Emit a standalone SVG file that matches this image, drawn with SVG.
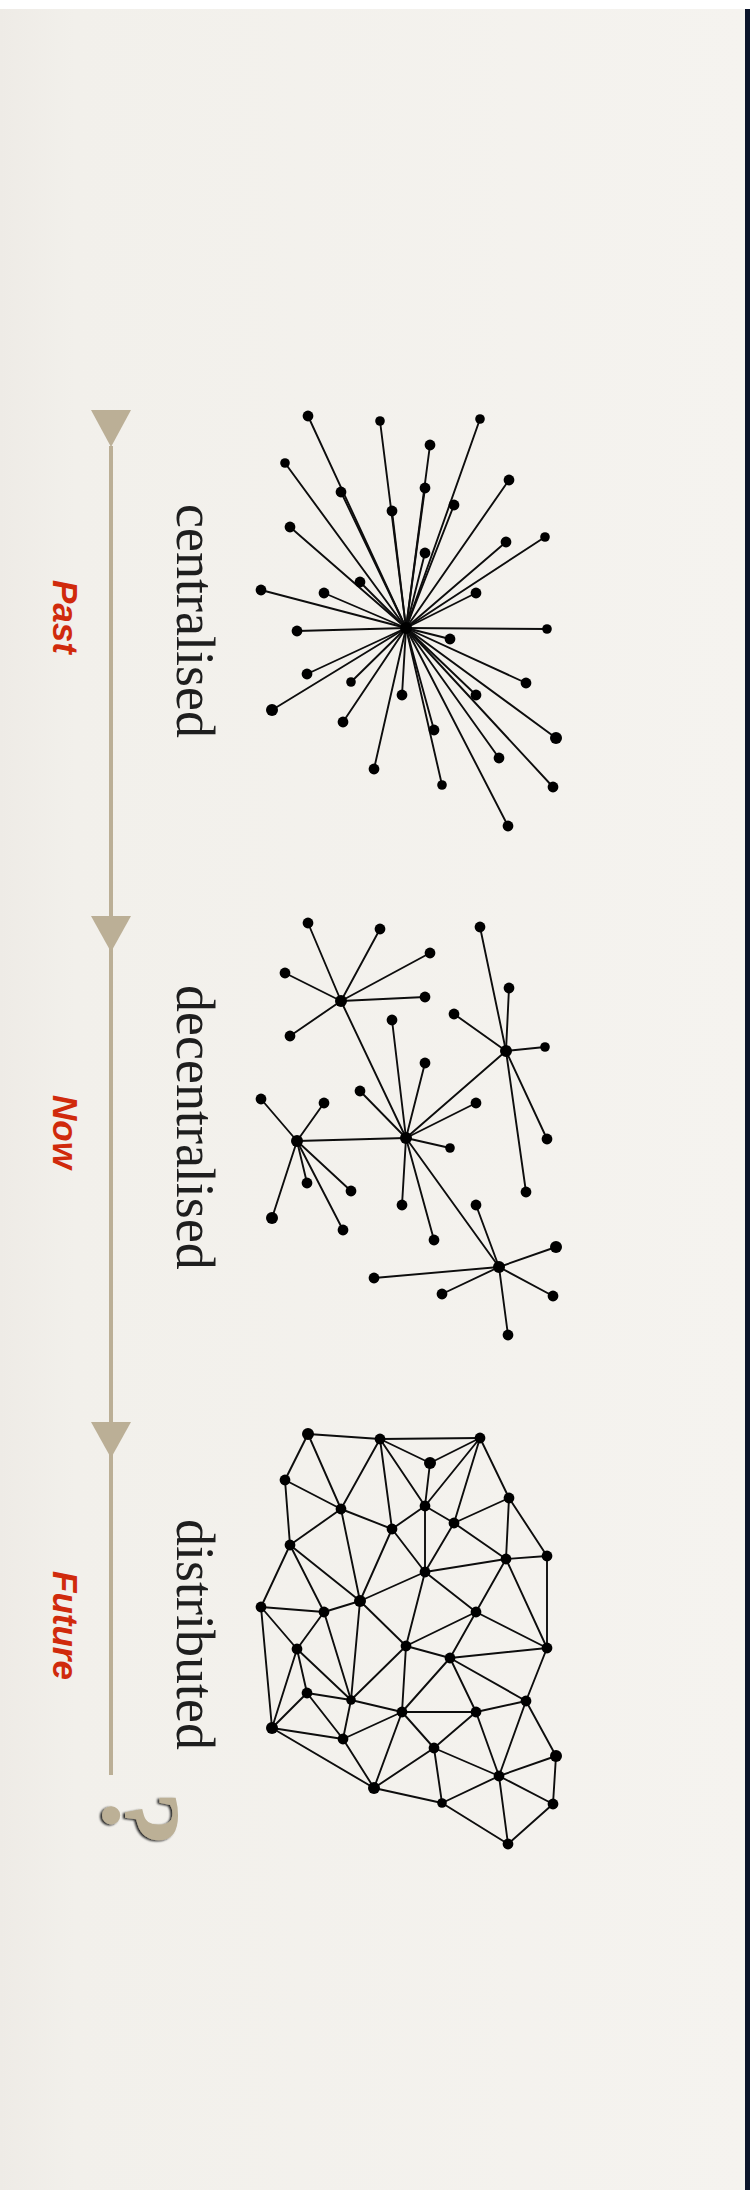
<svg xmlns="http://www.w3.org/2000/svg" width="750" height="2190" viewBox="0 0 750 2190">
<defs>
<linearGradient id="bg" x1="0" y1="0" x2="1" y2="0">
<stop offset="0" stop-color="#eeebe6"/>
<stop offset="0.1" stop-color="#f2f0eb"/>
<stop offset="1" stop-color="#f5f3ef"/>
</linearGradient>
<filter id="sh" x="-20%" y="-20%" width="140%" height="140%">
<feDropShadow dx="-2" dy="1" stdDeviation="1.2" flood-color="#000" flood-opacity="0.85"/>
</filter>
<style>
.e line{stroke:#0d0d0d;stroke-width:1.9;stroke-linecap:round}
.d circle{fill:#000;transform-box:fill-box;transform-origin:center;transform:scale(1.2)}
.lbl{font-family:"Liberation Serif","Times New Roman",serif;font-size:54px;fill:#1e1e1e}
.era{font-family:"Liberation Sans",Arial,sans-serif;font-size:35px;font-weight:bold;font-style:italic;fill:#d02a0c}
.tl{fill:#bbaf96}
</style>
</defs>
<rect width="750" height="2190" fill="url(#bg)"/>
<rect width="750" height="9" fill="#ffffff"/>
<rect x="745" y="9" width="5" height="2181" fill="#0b152b"/>

<g id="timeline">
<rect class="tl" x="109" y="446" width="4" height="1329"/>
<polygon class="tl" points="91,410 131,410 111,447"/>
<polygon class="tl" points="91,916 131,916 111,952"/>
<polygon class="tl" points="91,1422 131,1422 111,1458"/>
</g>

<g id="label-past"><text class="era" transform="translate(53,580) rotate(90)">Past</text></g>
<g id="label-now"><text class="era" transform="translate(53,1095) rotate(90)">Now</text></g>
<g id="label-future"><text class="era" transform="translate(53,1571) rotate(90)">Future</text></g>
<g id="question" filter="url(#sh)"><text transform="translate(104,1791) rotate(90)" font-family="'Liberation Serif','Times New Roman',serif" font-weight="bold" font-size="112" fill="#bcb096">?</text></g>

<g id="label-centralised"><text class="lbl" transform="translate(177,504) rotate(90)">centralised</text></g>
<g id="label-decentralised"><text class="lbl" transform="translate(177,985) rotate(90)">decentralised</text></g>
<g id="label-distributed"><text class="lbl" transform="translate(177,1519) rotate(90)">distributed</text></g>

<g id="centralised-network">
<g class="e">
<line x1="406" y1="628" x2="308" y2="416"/>
<line x1="406" y1="628" x2="380" y2="421"/>
<line x1="406" y1="628" x2="480" y2="419"/>
<line x1="406" y1="628" x2="430" y2="445"/>
<line x1="406" y1="628" x2="285" y2="463"/>
<line x1="406" y1="628" x2="509" y2="480"/>
<line x1="406" y1="628" x2="341" y2="492"/>
<line x1="406" y1="628" x2="425" y2="488"/>
<line x1="406" y1="628" x2="392" y2="511"/>
<line x1="406" y1="628" x2="454" y2="505"/>
<line x1="406" y1="628" x2="290" y2="527"/>
<line x1="406" y1="628" x2="506" y2="542"/>
<line x1="406" y1="628" x2="545" y2="537"/>
<line x1="406" y1="628" x2="425" y2="553"/>
<line x1="406" y1="628" x2="360" y2="582"/>
<line x1="406" y1="628" x2="261" y2="590"/>
<line x1="406" y1="628" x2="324" y2="593"/>
<line x1="406" y1="628" x2="476" y2="593"/>
<line x1="406" y1="628" x2="297" y2="631" stroke="#777" stroke-width="2.8"/>
<line x1="406" y1="628" x2="547" y2="629" stroke="#777" stroke-width="2.8"/>
<line x1="406" y1="628" x2="450" y2="639"/>
<line x1="406" y1="628" x2="307" y2="674"/>
<line x1="406" y1="628" x2="351" y2="682"/>
<line x1="406" y1="628" x2="402" y2="695"/>
<line x1="406" y1="628" x2="526" y2="683"/>
<line x1="406" y1="628" x2="476" y2="695"/>
<line x1="406" y1="628" x2="272" y2="710"/>
<line x1="406" y1="628" x2="343" y2="722"/>
<line x1="406" y1="628" x2="434" y2="730"/>
<line x1="406" y1="628" x2="556" y2="738"/>
<line x1="406" y1="628" x2="499" y2="758"/>
<line x1="406" y1="628" x2="374" y2="769"/>
<line x1="406" y1="628" x2="442" y2="785"/>
<line x1="406" y1="628" x2="553" y2="787"/>
<line x1="406" y1="628" x2="508" y2="826"/>
</g>
<g class="d">
<circle cx="406" cy="628" r="5"/>
<circle cx="308" cy="416" r="4.5"/><circle cx="380" cy="421" r="4"/><circle cx="480" cy="419" r="4"/>
<circle cx="430" cy="445" r="4.5"/><circle cx="285" cy="463" r="4"/><circle cx="509" cy="480" r="4.5"/>
<circle cx="341" cy="492" r="4.5"/><circle cx="425" cy="488" r="4.5"/><circle cx="392" cy="511" r="4.5"/>
<circle cx="454" cy="505" r="4.5"/><circle cx="290" cy="527" r="4.5"/><circle cx="506" cy="542" r="4.5"/>
<circle cx="545" cy="537" r="4"/><circle cx="425" cy="553" r="4.5"/><circle cx="360" cy="582" r="4.5"/>
<circle cx="261" cy="590" r="4.5"/><circle cx="324" cy="593" r="4.5"/><circle cx="476" cy="593" r="4.5"/>
<circle cx="297" cy="631" r="4.5"/><circle cx="547" cy="629" r="4"/><circle cx="450" cy="639" r="4.5"/>
<circle cx="307" cy="674" r="4.5"/><circle cx="351" cy="682" r="4"/><circle cx="402" cy="695" r="4.5"/>
<circle cx="526" cy="683" r="4.5"/><circle cx="476" cy="695" r="4.5"/><circle cx="272" cy="710" r="5"/>
<circle cx="343" cy="722" r="4.5"/><circle cx="434" cy="730" r="4.5"/><circle cx="556" cy="738" r="5"/>
<circle cx="499" cy="758" r="4.5"/><circle cx="374" cy="769" r="4.5"/><circle cx="442" cy="785" r="4"/>
<circle cx="553" cy="787" r="4.5"/><circle cx="508" cy="826" r="4.5"/>
</g>
</g>

<g id="decentralised-network">
<g class="e">
<line x1="341" y1="1001" x2="406" y2="1138"/>
<line x1="406" y1="1138" x2="297" y2="1141"/>
<line x1="406" y1="1138" x2="506" y2="1051"/>
<line x1="406" y1="1138" x2="499" y2="1267"/>
<line x1="341" y1="1001" x2="308" y2="923"/>
<line x1="341" y1="1001" x2="380" y2="929"/>
<line x1="341" y1="1001" x2="430" y2="953"/>
<line x1="341" y1="1001" x2="285" y2="973"/>
<line x1="341" y1="1001" x2="425" y2="997"/>
<line x1="341" y1="1001" x2="290" y2="1036"/>
<line x1="506" y1="1051" x2="480" y2="927"/>
<line x1="506" y1="1051" x2="509" y2="988"/>
<line x1="506" y1="1051" x2="454" y2="1014"/>
<line x1="506" y1="1051" x2="545" y2="1047"/>
<line x1="506" y1="1051" x2="547" y2="1139"/>
<line x1="506" y1="1051" x2="526" y2="1192"/>
<line x1="406" y1="1138" x2="392" y2="1020"/>
<line x1="406" y1="1138" x2="425" y2="1063"/>
<line x1="406" y1="1138" x2="360" y2="1091"/>
<line x1="406" y1="1138" x2="476" y2="1103"/>
<line x1="406" y1="1138" x2="450" y2="1148"/>
<line x1="406" y1="1138" x2="402" y2="1205"/>
<line x1="406" y1="1138" x2="434" y2="1240"/>
<line x1="297" y1="1141" x2="261" y2="1099"/>
<line x1="297" y1="1141" x2="324" y2="1103"/>
<line x1="297" y1="1141" x2="307" y2="1183"/>
<line x1="297" y1="1141" x2="351" y2="1191"/>
<line x1="297" y1="1141" x2="272" y2="1218"/>
<line x1="297" y1="1141" x2="343" y2="1230"/>
<line x1="499" y1="1267" x2="476" y2="1205"/>
<line x1="499" y1="1267" x2="556" y2="1247"/>
<line x1="499" y1="1267" x2="374" y2="1278"/>
<line x1="499" y1="1267" x2="442" y2="1294"/>
<line x1="499" y1="1267" x2="553" y2="1296"/>
<line x1="499" y1="1267" x2="508" y2="1335"/>
</g>
<g class="d">
<circle cx="341" cy="1001" r="5"/><circle cx="406" cy="1138" r="5"/><circle cx="297" cy="1141" r="5"/>
<circle cx="506" cy="1051" r="5"/><circle cx="499" cy="1267" r="5"/>
<circle cx="308" cy="923" r="4.5"/><circle cx="380" cy="929" r="4.5"/><circle cx="430" cy="953" r="4.5"/>
<circle cx="285" cy="973" r="4.5"/><circle cx="425" cy="997" r="4.5"/><circle cx="290" cy="1036" r="4.5"/>
<circle cx="480" cy="927" r="4.5"/><circle cx="509" cy="988" r="4.5"/><circle cx="454" cy="1014" r="4.5"/>
<circle cx="545" cy="1047" r="4"/><circle cx="547" cy="1139" r="4.5"/><circle cx="526" cy="1192" r="4.5"/>
<circle cx="392" cy="1020" r="4.5"/><circle cx="425" cy="1063" r="4.5"/><circle cx="360" cy="1091" r="4.5"/>
<circle cx="476" cy="1103" r="4.5"/><circle cx="450" cy="1148" r="4"/><circle cx="402" cy="1205" r="4.5"/>
<circle cx="434" cy="1240" r="4.5"/><circle cx="261" cy="1099" r="4.5"/><circle cx="324" cy="1103" r="4.5"/>
<circle cx="307" cy="1183" r="4.5"/><circle cx="351" cy="1191" r="4.5"/><circle cx="272" cy="1218" r="5"/>
<circle cx="343" cy="1230" r="4.5"/><circle cx="476" cy="1205" r="4.5"/><circle cx="556" cy="1247" r="5"/>
<circle cx="374" cy="1278" r="4.5"/><circle cx="442" cy="1294" r="4.5"/><circle cx="553" cy="1296" r="4.5"/>
<circle cx="508" cy="1335" r="4.5"/>
</g>
</g>

<g id="distributed-network">
<g class="e">
<line x1="308" y1="1434" x2="380" y2="1439"/>
<line x1="380" y1="1439" x2="480" y2="1438"/>
<line x1="308" y1="1434" x2="285" y2="1480"/>
<line x1="308" y1="1434" x2="341" y2="1509"/>
<line x1="380" y1="1439" x2="341" y2="1509"/>
<line x1="380" y1="1439" x2="430" y2="1463"/>
<line x1="380" y1="1439" x2="425" y2="1506"/>
<line x1="380" y1="1439" x2="392" y2="1529"/>
<line x1="430" y1="1463" x2="480" y2="1438"/>
<line x1="430" y1="1463" x2="425" y2="1506"/>
<line x1="480" y1="1438" x2="425" y2="1506"/>
<line x1="480" y1="1438" x2="454" y2="1523"/>
<line x1="480" y1="1438" x2="509" y2="1498"/>
<line x1="285" y1="1480" x2="341" y2="1509"/>
<line x1="285" y1="1480" x2="290" y2="1545"/>
<line x1="341" y1="1509" x2="290" y2="1545"/>
<line x1="341" y1="1509" x2="392" y2="1529"/>
<line x1="341" y1="1509" x2="360" y2="1601"/>
<line x1="392" y1="1529" x2="425" y2="1506"/>
<line x1="425" y1="1506" x2="454" y2="1523"/>
<line x1="392" y1="1529" x2="425" y2="1572"/>
<line x1="425" y1="1506" x2="425" y2="1572"/>
<line x1="454" y1="1523" x2="425" y2="1572"/>
<line x1="454" y1="1523" x2="506" y2="1559"/>
<line x1="454" y1="1523" x2="509" y2="1498"/>
<line x1="509" y1="1498" x2="506" y2="1559"/>
<line x1="509" y1="1498" x2="547" y2="1556"/>
<line x1="506" y1="1559" x2="547" y2="1556"/>
<line x1="506" y1="1559" x2="425" y2="1572"/>
<line x1="392" y1="1529" x2="360" y2="1601"/>
<line x1="425" y1="1572" x2="360" y2="1601"/>
<line x1="290" y1="1545" x2="360" y2="1601"/>
<line x1="290" y1="1545" x2="324" y2="1612"/>
<line x1="290" y1="1545" x2="261" y2="1607"/>
<line x1="261" y1="1607" x2="324" y2="1612"/>
<line x1="324" y1="1612" x2="360" y2="1601"/>
<line x1="425" y1="1572" x2="406" y2="1646"/>
<line x1="360" y1="1601" x2="406" y2="1646"/>
<line x1="425" y1="1572" x2="476" y2="1612"/>
<line x1="506" y1="1559" x2="476" y2="1612"/>
<line x1="476" y1="1612" x2="406" y2="1646"/>
<line x1="476" y1="1612" x2="547" y2="1648"/>
<line x1="547" y1="1556" x2="547" y2="1648"/>
<line x1="506" y1="1559" x2="547" y2="1648"/>
<line x1="406" y1="1646" x2="450" y2="1658"/>
<line x1="450" y1="1658" x2="547" y2="1648"/>
<line x1="476" y1="1612" x2="450" y2="1658"/>
<line x1="261" y1="1607" x2="297" y2="1649"/>
<line x1="324" y1="1612" x2="297" y2="1649"/>
<line x1="297" y1="1649" x2="307" y2="1693"/>
<line x1="297" y1="1649" x2="351" y2="1700"/>
<line x1="297" y1="1649" x2="272" y2="1728"/>
<line x1="307" y1="1693" x2="351" y2="1700"/>
<line x1="307" y1="1693" x2="272" y2="1728"/>
<line x1="324" y1="1612" x2="351" y2="1700"/>
<line x1="360" y1="1601" x2="351" y2="1700"/>
<line x1="261" y1="1607" x2="272" y2="1728"/>
<line x1="351" y1="1700" x2="406" y2="1646"/>
<line x1="351" y1="1700" x2="402" y2="1712"/>
<line x1="351" y1="1700" x2="343" y2="1739"/>
<line x1="406" y1="1646" x2="402" y2="1712"/>
<line x1="450" y1="1658" x2="402" y2="1712"/>
<line x1="402" y1="1712" x2="476" y2="1712"/>
<line x1="450" y1="1658" x2="476" y2="1712"/>
<line x1="476" y1="1712" x2="526" y2="1701"/>
<line x1="450" y1="1658" x2="526" y2="1701"/>
<line x1="547" y1="1648" x2="526" y2="1701"/>
<line x1="526" y1="1701" x2="556" y2="1756"/>
<line x1="526" y1="1701" x2="499" y2="1776"/>
<line x1="476" y1="1712" x2="499" y2="1776"/>
<line x1="476" y1="1712" x2="434" y2="1748"/>
<line x1="402" y1="1712" x2="434" y2="1748"/>
<line x1="402" y1="1712" x2="374" y2="1788"/>
<line x1="402" y1="1712" x2="343" y2="1739"/>
<line x1="343" y1="1739" x2="374" y2="1788"/>
<line x1="272" y1="1728" x2="343" y2="1739"/>
<line x1="272" y1="1728" x2="374" y2="1788"/>
<line x1="307" y1="1693" x2="343" y2="1739"/>
<line x1="434" y1="1748" x2="374" y2="1788"/>
<line x1="434" y1="1748" x2="442" y2="1803"/>
<line x1="434" y1="1748" x2="499" y2="1776"/>
<line x1="374" y1="1788" x2="442" y2="1803"/>
<line x1="442" y1="1803" x2="499" y2="1776"/>
<line x1="442" y1="1803" x2="508" y2="1844"/>
<line x1="499" y1="1776" x2="508" y2="1844"/>
<line x1="499" y1="1776" x2="553" y2="1804"/>
<line x1="499" y1="1776" x2="556" y2="1756"/>
<line x1="556" y1="1756" x2="553" y2="1804"/>
<line x1="553" y1="1804" x2="508" y2="1844"/>
</g>
<g class="d">
<circle cx="308" cy="1434" r="5"/><circle cx="380" cy="1439" r="4.5"/><circle cx="480" cy="1438" r="4.5"/>
<circle cx="430" cy="1463" r="5"/><circle cx="285" cy="1480" r="4.5"/><circle cx="509" cy="1498" r="4.5"/>
<circle cx="341" cy="1509" r="4.5"/><circle cx="425" cy="1506" r="4.5"/><circle cx="392" cy="1529" r="4.5"/>
<circle cx="454" cy="1523" r="4.5"/><circle cx="290" cy="1545" r="4.5"/><circle cx="506" cy="1559" r="4.5"/>
<circle cx="547" cy="1556" r="4.5"/><circle cx="425" cy="1572" r="4.5"/><circle cx="360" cy="1601" r="5"/>
<circle cx="261" cy="1607" r="4.5"/><circle cx="324" cy="1612" r="4.5"/><circle cx="476" cy="1612" r="4.5"/>
<circle cx="297" cy="1649" r="4.5"/><circle cx="406" cy="1646" r="4.5"/><circle cx="547" cy="1648" r="4.5"/>
<circle cx="450" cy="1658" r="4.5"/><circle cx="307" cy="1693" r="4.5"/><circle cx="351" cy="1700" r="4"/>
<circle cx="526" cy="1701" r="4.5"/><circle cx="402" cy="1712" r="4.5"/><circle cx="476" cy="1712" r="4.5"/>
<circle cx="272" cy="1728" r="5"/><circle cx="343" cy="1739" r="4.5"/><circle cx="434" cy="1748" r="4.5"/>
<circle cx="556" cy="1756" r="5"/><circle cx="499" cy="1776" r="4.5"/><circle cx="374" cy="1788" r="5"/>
<circle cx="442" cy="1803" r="4"/><circle cx="553" cy="1804" r="4.5"/><circle cx="508" cy="1844" r="4.5"/>
</g>
</g>
</svg>
